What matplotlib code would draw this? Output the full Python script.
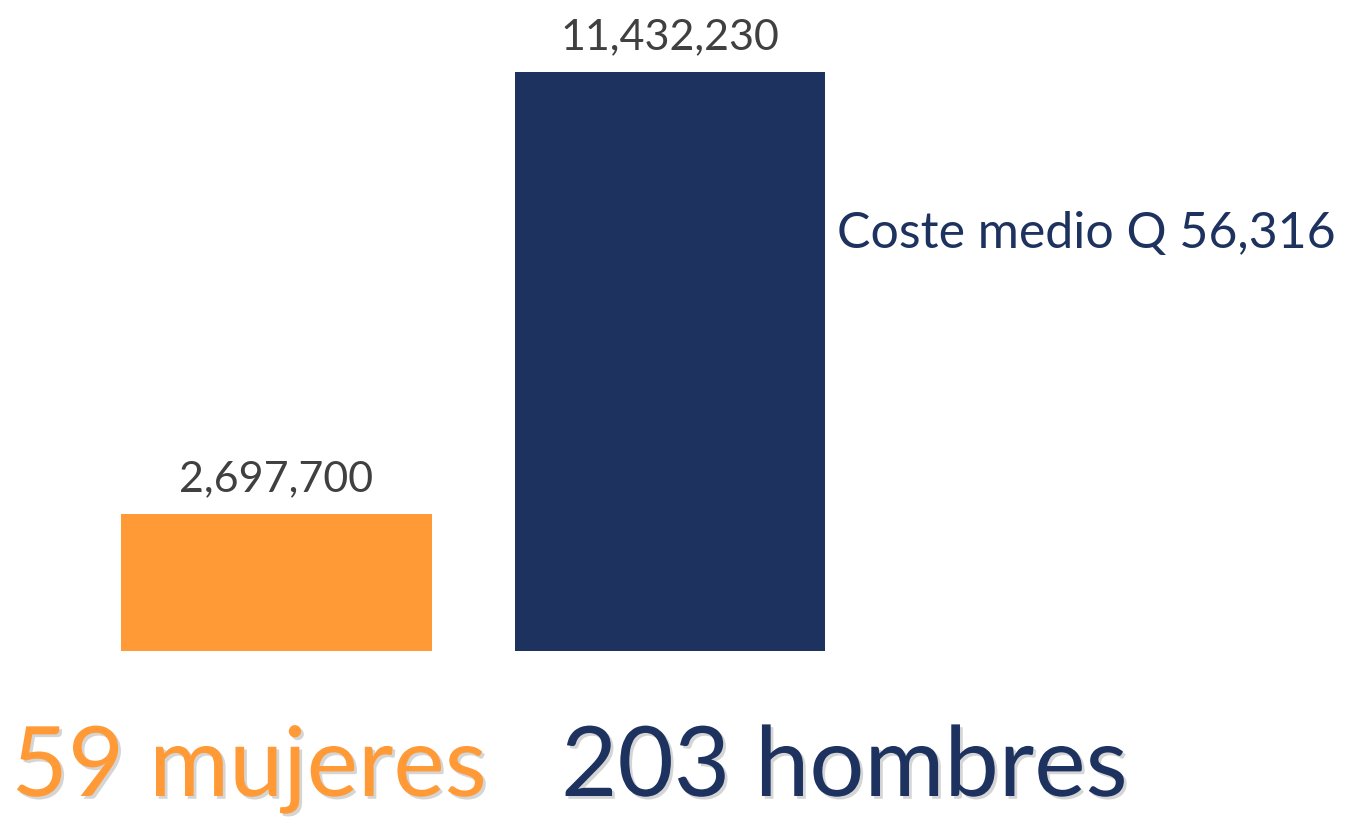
import matplotlib.pyplot as plt
import matplotlib.patheffects as pe

plt.rcParams['font.family'] = ['Lato', 'DejaVu Sans']

groups = ['59 mujeres', '203 hombres']
totals = [2697700, 11432230]
colors = ['#FF9A36', '#1D325F']
note = 'Coste medio Q 56,316'

W, H = 1345, 819
bar_w = 0.788
fig = plt.figure(figsize=(W / 100, H / 100), dpi=100)
ax = fig.add_axes([0, 168 / H, 1, (H - 168 - 72) / H])
x = [0, 1]
ax.bar(x, totals, width=bar_w, color=colors)
ax.set_xlim(-0.7027, 2.715)
ax.set_ylim(0, max(totals))
ax.axis('off')

for xi, v in zip(x, totals):
    ax.annotate(f'{v:,}', (xi, v), xytext=(0, 16), textcoords='offset pixels',
                ha='center', va='bottom', fontsize=31, color='#404040',
                annotation_clip=False)

ax.annotate(note, (1 + bar_w / 2, totals[1] * 0.72), xytext=(12, 0),
            textcoords='offset pixels', ha='left', va='center',
            fontsize=36, color=colors[1], annotation_clip=False)

# big group labels, left-aligned relative to each bar's left edge
shadow = [pe.withSimplePatchShadow(offset=(2, -2), shadow_rgbFace='#888888', alpha=0.35)]
label_dx = [-110, 46]
for xi, g, c, dx in zip(x, groups, colors, label_dx):
    ax.annotate(g, (xi - bar_w / 2, 0), xytext=(dx, -74), textcoords='offset pixels',
                ha='left', va='top', fontsize=70, color=c,
                annotation_clip=False, path_effects=shadow)

fig.savefig('out.png', dpi=100)
